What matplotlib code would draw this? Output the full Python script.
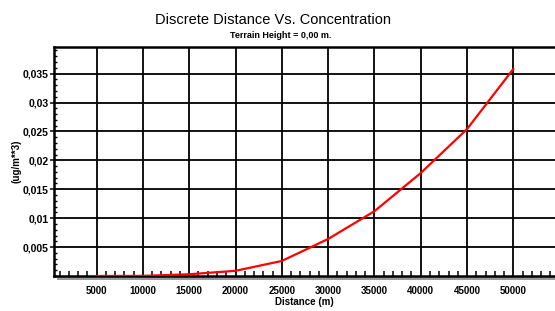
import matplotlib
matplotlib.use('Agg')
import matplotlib.pyplot as plt
from matplotlib.patches import Rectangle
from matplotlib.ticker import FuncFormatter, MultipleLocator

plt.rcParams['font.family'] = 'Liberation Sans'

# values
distance = [5000, 10000, 15000, 20000, 25000, 30000, 35000, 40000, 45000, 50000]
concentration = [0.0, 0.00002, 0.0003, 0.0009, 0.0026, 0.0064, 0.0112, 0.0178,
                 0.0254, 0.0358]
x_ticks = [5000, 10000, 15000, 20000, 25000, 30000, 35000, 40000, 45000, 50000]
y_ticks = [0.005, 0.01, 0.015, 0.02, 0.025, 0.03, 0.035]

title = 'Discrete Distance Vs. Concentration'
subtitle = 'Terrain Height = 0,00 m.'


def comma_fmt(v, pos):
    s = ('%.3f' % v).rstrip('0')
    return s.replace('.', ',')


fig = plt.figure(figsize=(5.55, 3.11), dpi=100)
W, H = 555, 311
ax = fig.add_axes([54 / W, (H - 276) / H, (W - 54) / W, (276 - 47) / H])

ax.plot(distance, concentration, color='#ff0000', lw=1.6, zorder=3)

ax.set_xlim(400, 54500)
ax.set_ylim(0, 0.0396)
ax.set_xticks(x_ticks)
ax.set_yticks(y_ticks)
ax.xaxis.set_minor_locator(MultipleLocator(1000))
ax.yaxis.set_minor_locator(MultipleLocator(0.001))
ax.yaxis.set_major_formatter(FuncFormatter(comma_fmt))

ax.grid(True, which='major', color='black', lw=1.3)
ax.tick_params(axis='x', which='major', length=0, pad=7, labelsize=7)
ax.tick_params(axis='x', which='minor', direction='in', length=3.5, width=1.1)
ax.tick_params(axis='y', which='major', direction='out', length=3, width=1.1,
               labelsize=7.5, pad=1)
ax.tick_params(axis='y', which='minor', direction='in', length=2.5, width=1.0)
for lab in ax.get_xticklabels() + ax.get_yticklabels():
    lab.set_fontweight('bold')

for side in ['top', 'left', 'bottom']:
    ax.spines[side].set_linewidth(1.8)
ax.spines['right'].set_visible(False)

# drop shadow under the x axis
ax.add_patch(Rectangle((0.006, -0.016), 0.994, 0.016, transform=ax.transAxes,
                       color='#9a9a9a', clip_on=False, zorder=0, lw=0))

ax.set_xlabel('Distance (m)', fontsize=7, fontweight='bold', labelpad=1)
ax.set_ylabel('(ug/m**3)', fontsize=7, fontweight='bold', labelpad=1)

fig.text(0.492, 1 - 20 / H, title, ha='center', va='center', fontsize=10.5)
fig.text(0.506, 1 - 36 / H, subtitle, ha='center', va='center', fontsize=6.5,
         fontweight='bold')

fig.savefig('out.png', dpi=100)
